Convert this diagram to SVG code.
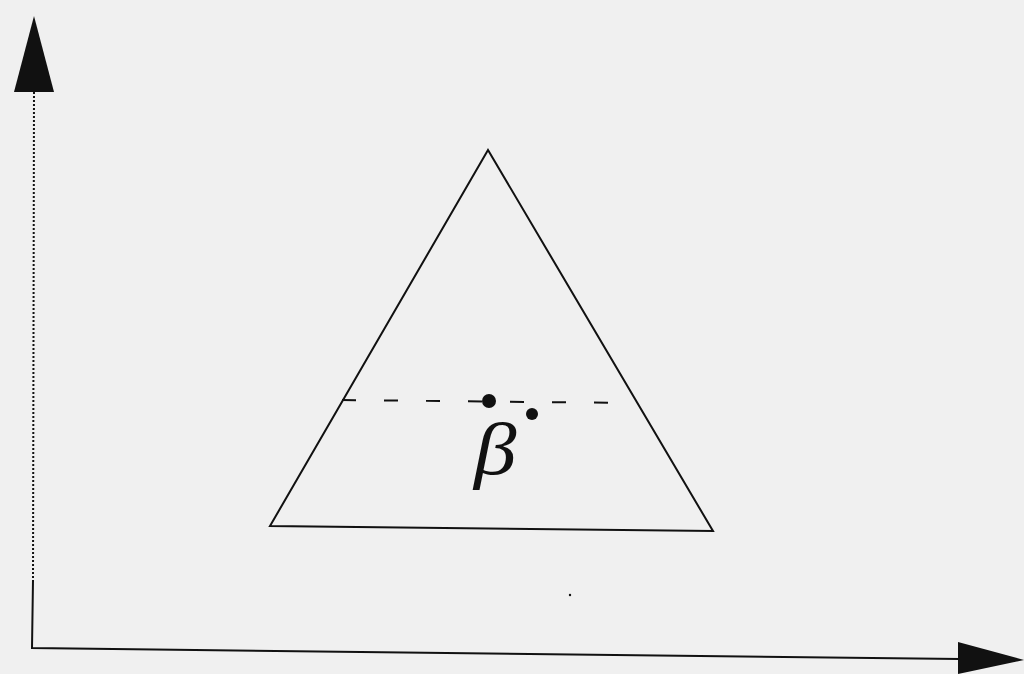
<svg xmlns="http://www.w3.org/2000/svg" width="1024" height="674" viewBox="0 0 1024 674">
<style>
.ln{stroke:#111;fill:none;stroke-width:2}
.ar{fill:#111;stroke:none}
.lbl{font-family:"Liberation Serif",serif;font-style:italic;font-size:74px;fill:#111}
</style>
<rect width="1024" height="674" fill="#f0f0f0"/>
<g id="axes">
<path class="ln" d="M34,92 L33,582" stroke-dasharray="2,2"/>
<path class="ln" d="M33,580 L32,648 L960,659"/>
<polygon class="ar" points="34,16 14,92 54,92"/>
<polygon class="ar" points="1024,660 958,642 958,674"/>
</g>
<g id="triangle">
<polygon class="ln" points="488,150 270,526 713,531"/>
</g>
<g id="centroid">
<path class="ln" d="M342,400 L630,403" stroke-dasharray="14,28"/>
<circle cx="489" cy="401" r="7" class="ar"/>
<circle cx="532" cy="414" r="6" class="ar"/>
<text class="lbl" x="474" y="474" transform="translate(474,0) scale(1.15,1) translate(-474,0)">β</text>
<circle cx="570" cy="595" r="1.2" class="ar"/>
</g>
</svg>
